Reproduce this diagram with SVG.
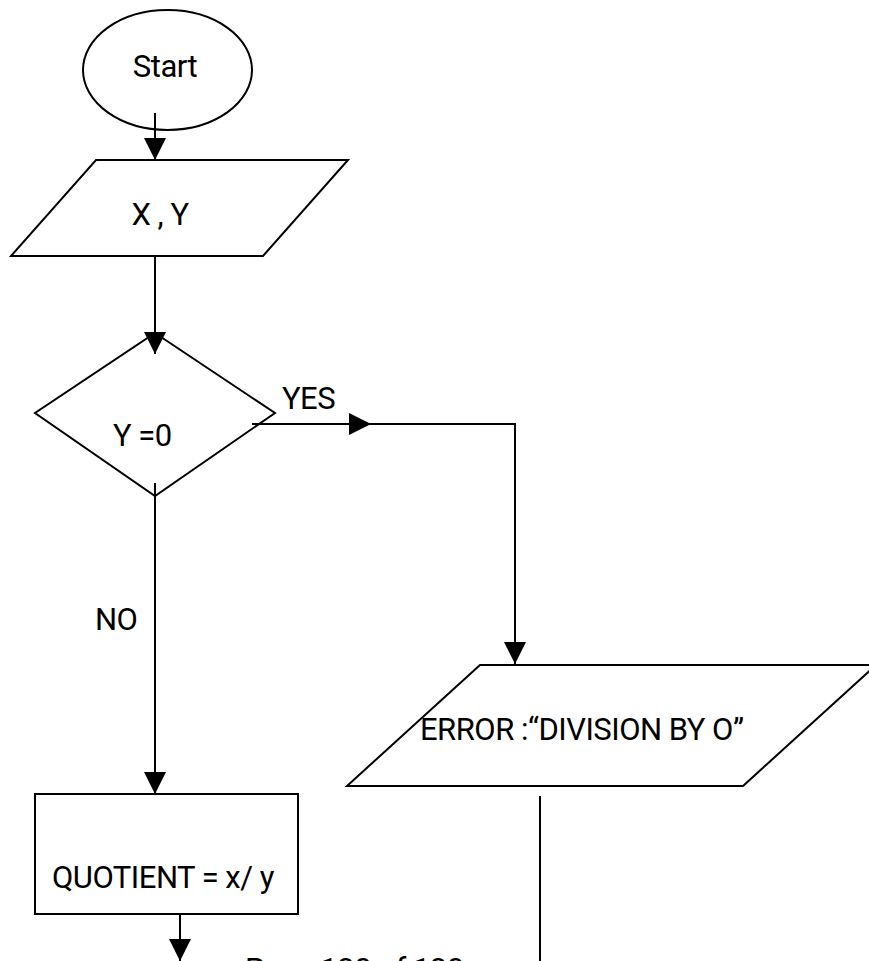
<svg xmlns="http://www.w3.org/2000/svg" width="869" height="961" viewBox="0 0 869 961">
<defs>
<style>
.shape{fill:#fff;stroke:#000;stroke-width:2}
.conn{fill:none;stroke:#000;stroke-width:2}
.lbl{font-family:Roboto,"Liberation Sans",sans-serif;font-size:31px;letter-spacing:-0.5px;fill:#000}
</style>
<marker id="arr" markerUnits="userSpaceOnUse" markerWidth="22" markerHeight="22" refX="22" refY="11" orient="auto" viewBox="0 0 22 22">
<path d="M0,0 L22,11 L0,22 z" fill="#000"/>
</marker>
</defs>
<rect width="869" height="961" fill="#fff"/>
<g id="start">
<ellipse class="shape" cx="167.5" cy="70" rx="84.5" ry="60"/>
<text class="lbl" x="165" y="77" text-anchor="middle">Start</text>
</g>
<g id="input">
<polygon class="shape" points="96,160 348,160 263,256 11,256"/>
<text class="lbl" x="160" y="225" text-anchor="middle">X , Y</text>
</g>
<g id="decision">
<polygon class="shape" points="155,333 275,413 155,496 35,413"/>
<text class="lbl" x="113" y="446">Y =0</text>
</g>
<g id="error">
<polygon class="shape" points="480,665 876,665 743,786 347,786"/>
<text class="lbl" x="420" y="740">ERROR :“DIVISION BY O”</text>
</g>
<g id="quotient">
<rect class="shape" x="35" y="794" width="263" height="120"/>
<text class="lbl" x="52" y="888">QUOTIENT = x/ y</text>
</g>
<g id="connectors">
<line class="conn" x1="155" y1="113" x2="155" y2="160" marker-end="url(#arr)"/>
<line class="conn" x1="155" y1="256" x2="155" y2="354" marker-end="url(#arr)"/>
<line class="conn" x1="155" y1="483" x2="155" y2="794" marker-end="url(#arr)"/>
<line class="conn" x1="252" y1="424" x2="371" y2="424" marker-end="url(#arr)"/>
<polyline class="conn" points="371,424 515,424 515,664" marker-end="url(#arr)"/>
<line class="conn" x1="540" y1="796" x2="540" y2="961"/>
<line class="conn" x1="180" y1="914" x2="180" y2="961" marker-end="url(#arr)"/>
<text class="lbl" x="282" y="409">YES</text>
<text class="lbl" x="95" y="630">NO</text>
</g>
<text class="lbl" x="245" y="980" font-size="27">Page 130 of 130</text>
</svg>
